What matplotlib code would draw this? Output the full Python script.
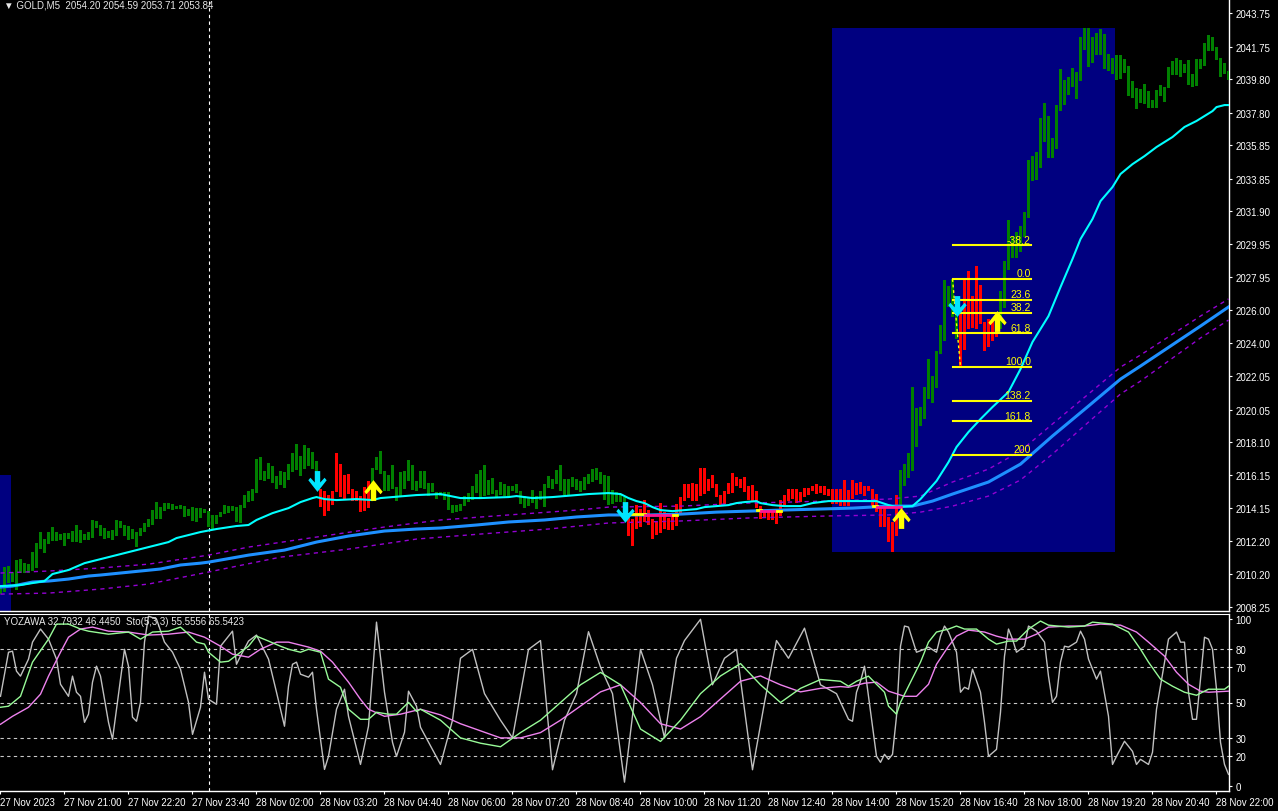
import matplotlib.pyplot as plt
import numpy as np
from matplotlib.path import Path
from matplotlib.patches import Rectangle

plt.rcParams['font.family'] = ['Liberation Sans', 'DejaVu Sans']

# ---------------- price bars (M5, one per bar index) ----------------
highs = [
    2009.50, 2010.64, 2010.70, 2010.34, 2011.05, 2011.11, 2010.87, 2010.81, 2011.53, 2012.07,
    2012.73, 2012.31, 2012.73, 2013.03, 2012.73, 2012.61, 2012.67, 2012.67, 2012.79, 2013.15,
    2012.85, 2012.61, 2012.73, 2013.45, 2013.39, 2013.15, 2012.97, 2012.79, 2012.85, 2013.45,
    2013.39, 2013.15, 2013.09, 2012.91, 2012.73, 2012.97, 2013.27, 2013.51, 2014.04, 2014.52,
    2014.22, 2014.46, 2014.46, 2014.40, 2014.28, 2014.34, 2014.28, 2014.10, 2014.22, 2014.16,
    2014.16, 2014.10, 2013.98, 2013.75, 2013.75, 2013.92, 2014.34, 2014.28, 2014.28, 2014.22,
    2014.34, 2014.94, 2015.18, 2015.30, 2017.09, 2017.21, 2016.37, 2016.85, 2016.67, 2016.07,
    2016.37, 2016.31, 2016.79, 2017.45, 2017.99, 2017.27, 2017.93, 2017.75, 2017.51, 2016.97,
    2015.30, 2015.18, 2014.94, 2015.18, 2017.45, 2016.79, 2016.13, 2016.19, 2015.30, 2015.18,
    2014.88, 2015.42, 2015.78, 2016.55, 2017.21, 2017.57, 2016.37, 2016.13, 2016.73, 2015.42,
    2016.31, 2016.37, 2017.03, 2016.73, 2015.78, 2016.37, 2016.37, 2015.66, 2015.66, 2015.12,
    2015.12, 2015.12, 2015.12, 2014.34, 2014.34, 2014.40, 2014.88, 2015.06, 2015.48, 2016.19,
    2016.43, 2016.73, 2015.84, 2015.96, 2015.24, 2015.72, 2015.60, 2015.48, 2015.48, 2015.60,
    2015.18, 2014.88, 2014.76, 2015.24, 2014.88, 2015.18, 2015.60, 2016.07, 2015.90, 2016.43,
    2016.73, 2015.90, 2015.90, 2016.02, 2015.90, 2015.78, 2016.02, 2016.19, 2016.49, 2016.55,
    2016.31, 2016.13, 2016.07, 2015.24, 2015.12, 2014.94, 2014.82, 2013.63, 2013.51, 2014.34,
    2014.10, 2014.64, 2014.04, 2013.51, 2013.33, 2014.46, 2013.92, 2013.57, 2013.80, 2014.40,
    2014.82, 2015.60, 2015.60, 2015.66, 2015.60, 2016.55, 2016.55, 2015.90, 2016.13, 2015.60,
    2014.94, 2015.18, 2015.66, 2016.25, 2016.02, 2015.90, 2016.02, 2015.48, 2015.54, 2015.18,
    2014.28, 2014.10, 2014.10, 2014.04, 2014.04, 2014.64, 2014.94, 2015.30, 2015.30, 2015.30,
    2015.12, 2015.36, 2015.36, 2015.48, 2015.60, 2015.48, 2015.48, 2015.30, 2015.30, 2015.30,
    2015.30, 2015.84, 2015.24, 2015.84, 2015.66, 2015.72, 2015.48, 2015.48, 2015.30, 2015.00,
    2014.28, 2014.16, 2013.63, 2013.33, 2014.94, 2016.43, 2016.79, 2017.45, 2021.40, 2020.14,
    2020.20, 2021.40, 2023.07, 2022.05, 2023.55, 2025.10, 2027.79, 2027.43, 2027.85, 2025.88,
    2025.88, 2027.79, 2028.33, 2026.84, 2028.63, 2027.49, 2025.28, 2025.46, 2025.46, 2025.64,
    2027.13, 2028.93, 2031.38, 2030.42, 2030.66, 2031.02, 2031.86, 2034.96, 2035.20, 2035.44,
    2037.47, 2038.37, 2037.59, 2036.28, 2038.25, 2040.40, 2039.75, 2039.92, 2040.46, 2040.22,
    2042.32, 2042.85, 2042.85, 2042.32, 2042.55, 2042.79, 2042.49, 2041.30, 2041.06, 2041.24,
    2041.24, 2041.00, 2040.58, 2039.69, 2039.27, 2039.21, 2039.51, 2039.09, 2038.55, 2039.15,
    2039.45, 2039.33, 2040.52, 2040.88, 2041.06, 2040.94, 2040.70, 2040.94, 2040.10, 2041.00,
    2041.00, 2041.96, 2042.44, 2042.32, 2041.72, 2041.06, 2040.76, 2040.28,
]
lows = [
    2009.02, 2009.14, 2009.68, 2009.74, 2009.26, 2010.28, 2010.28, 2010.28, 2010.40, 2010.58,
    2011.71, 2011.47, 2012.01, 2012.19, 2012.19, 2012.25, 2011.89, 2012.31, 2012.13, 2012.13,
    2012.07, 2012.25, 2012.25, 2012.37, 2012.97, 2012.49, 2012.31, 2012.37, 2012.25, 2012.49,
    2012.97, 2012.49, 2012.25, 2012.31, 2011.83, 2012.49, 2012.73, 2013.03, 2013.15, 2013.51,
    2013.51, 2013.98, 2014.10, 2014.04, 2014.10, 2014.10, 2013.63, 2013.69, 2013.39, 2013.33,
    2013.57, 2013.86, 2013.03, 2012.85, 2013.21, 2013.63, 2013.80, 2013.86, 2013.98, 2013.33,
    2013.27, 2014.16, 2014.52, 2014.58, 2015.06, 2015.84, 2015.78, 2015.90, 2015.66, 2015.30,
    2015.54, 2015.36, 2015.84, 2016.31, 2016.43, 2016.07, 2016.49, 2016.67, 2016.49, 2015.60,
    2014.22, 2013.69, 2013.98, 2014.34, 2015.12, 2014.82, 2014.70, 2015.00, 2014.58, 2014.58,
    2013.92, 2013.98, 2014.16, 2014.70, 2016.43, 2016.19, 2015.18, 2015.18, 2015.30, 2014.58,
    2014.88, 2015.30, 2015.78, 2015.24, 2015.18, 2015.36, 2015.30, 2014.88, 2015.12, 2014.70,
    2014.88, 2014.64, 2014.04, 2013.86, 2013.92, 2013.98, 2014.28, 2014.52, 2014.64, 2015.06,
    2014.76, 2014.88, 2014.94, 2015.00, 2014.82, 2014.94, 2014.88, 2014.88, 2015.18, 2015.06,
    2014.40, 2014.16, 2014.28, 2014.46, 2014.10, 2014.64, 2014.22, 2015.36, 2015.30, 2015.60,
    2015.18, 2014.94, 2014.94, 2015.42, 2015.24, 2015.12, 2015.24, 2015.60, 2015.72, 2015.84,
    2015.60, 2014.64, 2014.34, 2014.40, 2014.52, 2014.52, 2014.52, 2012.49, 2011.89, 2012.91,
    2013.03, 2013.33, 2013.15, 2012.31, 2012.55, 2012.67, 2012.91, 2012.85, 2012.85, 2013.09,
    2013.80, 2014.58, 2014.76, 2014.58, 2014.58, 2014.88, 2015.00, 2015.18, 2015.36, 2014.82,
    2014.34, 2014.40, 2015.00, 2015.06, 2015.48, 2015.36, 2015.12, 2014.64, 2014.58, 2014.16,
    2013.51, 2013.63, 2013.45, 2013.45, 2013.21, 2013.69, 2014.34, 2014.58, 2014.70, 2014.46,
    2014.52, 2014.82, 2014.94, 2015.18, 2015.00, 2015.06, 2014.94, 2014.88, 2014.40, 2014.40,
    2014.28, 2014.28, 2014.28, 2014.70, 2014.94, 2015.00, 2014.88, 2015.18, 2014.28, 2013.92,
    2013.03, 2013.03, 2012.13, 2011.53, 2012.49, 2014.28, 2015.48, 2015.96, 2016.37, 2017.81,
    2019.06, 2019.48, 2020.68, 2020.44, 2021.34, 2023.37, 2024.15, 2026.18, 2025.58, 2024.27,
    2022.59, 2023.61, 2024.86, 2024.92, 2024.86, 2025.16, 2023.55, 2023.79, 2024.15, 2024.39,
    2024.86, 2026.12, 2028.39, 2029.11, 2029.11, 2029.47, 2030.36, 2031.50, 2033.71, 2033.77,
    2034.49, 2036.04, 2035.08, 2035.08, 2035.62, 2037.89, 2038.25, 2038.85, 2039.33, 2038.61,
    2039.69, 2041.54, 2040.52, 2040.76, 2041.24, 2041.24, 2040.40, 2040.28, 2040.10, 2039.75,
    2039.81, 2040.16, 2038.79, 2038.67, 2038.01, 2038.37, 2038.31, 2038.07, 2038.07, 2038.07,
    2038.79, 2038.43, 2039.27, 2040.04, 2040.04, 2039.92, 2040.16, 2039.45, 2039.33, 2039.39,
    2040.40, 2040.58, 2041.48, 2041.48, 2040.94, 2039.92, 2040.10, 2039.75,
]
# bar index ranges painted red (down trend)
red_ranges = [(80, 92), (157, 224), (240, 249)]

# ---------------- moving averages (bar, price) ----------------
ma_fast = [(0, 2009.50), (5, 2009.56), (8, 2009.68), (11, 2009.80), (13, 2010.22), (17, 2010.46),
           (21, 2010.87), (25, 2011.11), (29, 2011.35), (33, 2011.59), (37, 2011.83), (42, 2012.13),
           (44, 2012.37), (47, 2012.55), (50, 2012.73), (54, 2012.91), (59, 2013.09), (62, 2013.15),
           (64, 2013.45), (68, 2013.86), (72, 2014.16), (75, 2014.52), (78, 2014.76), (79, 2014.82),
           (81, 2014.70), (84, 2014.64), (89, 2014.70), (93, 2014.64), (95, 2014.76), (98, 2014.82),
           (104, 2014.94), (110, 2015.00), (115, 2014.76), (120, 2014.76), (127, 2014.82),
           (129, 2014.88), (133, 2014.76), (138, 2014.82), (144, 2014.94), (147, 2015.00),
           (152, 2015.06), (155, 2015.00), (157, 2014.76), (159, 2014.58), (161, 2014.46),
           (163, 2014.22), (165, 2014.04), (168, 2013.98), (171, 2014.04), (174, 2014.10),
           (176, 2014.22), (179, 2014.28), (182, 2014.34), (184, 2014.46), (186, 2014.52),
           (189, 2014.58), (190, 2014.46), (193, 2014.34), (196, 2014.28), (200, 2014.28),
           (203, 2014.46), (207, 2014.58), (212, 2014.58), (219, 2014.58), (222, 2014.34),
           (224, 2014.22), (228, 2014.28), (230, 2014.70), (234, 2015.78), (237, 2016.91),
           (239, 2017.81), (242, 2018.71), (245, 2019.48), (248, 2020.20), (252, 2021.10),
           (255, 2022.47), (258, 2024.09), (262, 2025.64), (265, 2027.37), (268, 2029.05),
           (270, 2030.24), (273, 2031.44), (275, 2032.51), (278, 2033.35), (280, 2034.13),
           (283, 2034.72), (286, 2035.20), (289, 2035.74), (293, 2036.34), (296, 2036.94),
           (299, 2037.30), (303, 2037.89), (304, 2038.13), (306, 2038.25), (307, 2038.25)]
ma_slow = [(0, 2009.44), (3, 2009.50), (8, 2009.74), (12, 2009.80), (17, 2009.92), (22, 2010.10),
           (25, 2010.16), (30, 2010.28), (35, 2010.40), (40, 2010.52), (45, 2010.76), (50, 2010.87),
           (52, 2010.93), (62, 2011.35), (71, 2011.65), (79, 2012.13), (87, 2012.49), (96, 2012.79),
           (104, 2012.91), (110, 2012.97), (119, 2013.15), (127, 2013.33), (136, 2013.45),
           (144, 2013.63), (152, 2013.75), (162, 2013.75), (170, 2013.80), (179, 2013.92),
           (187, 2013.98), (195, 2014.04), (204, 2014.10), (213, 2014.16), (222, 2014.28),
           (228, 2014.28), (233, 2014.58), (238, 2015.00), (247, 2015.72), (255, 2016.79),
           (263, 2018.47), (272, 2020.26), (280, 2021.87), (285, 2022.65), (300, 2025.04),
           (307, 2026.18)]
env_upper = [(0, 2010.28), (12, 2010.40), (25, 2010.58), (37, 2010.81), (52, 2011.35), (62, 2011.83),
             (79, 2012.43), (96, 2013.03), (110, 2013.45), (127, 2013.75), (144, 2014.04),
             (152, 2014.22), (170, 2014.28), (187, 2014.46), (207, 2014.58), (222, 2014.70),
             (230, 2014.88), (238, 2015.72), (247, 2016.49), (255, 2017.57), (263, 2019.19),
             (272, 2020.98), (280, 2022.59), (285, 2023.31), (300, 2025.64), (307, 2026.66)]
env_lower = [(0, 2009.02), (12, 2009.08), (25, 2009.32), (37, 2009.62), (52, 2010.34), (70, 2011.23),
             (87, 2011.71), (104, 2012.31), (120, 2012.61), (137, 2012.91), (152, 2013.27),
             (170, 2013.39), (187, 2013.57), (207, 2013.69), (222, 2013.75), (230, 2013.92),
             (238, 2014.28), (247, 2014.88), (255, 2015.84), (263, 2017.39), (272, 2019.30),
             (280, 2020.98), (285, 2021.75), (300, 2024.33), (307, 2025.40)]
# short signal segments (start bar, end bar, price, colour)
signal_segments = [(155, 161, 2013.80, '#FFFF00'), (161, 168, 2013.75, '#FF1493'),
                   (168, 169, 2013.75, '#FFFF00'), (189, 190, 2014.04, '#FFFF00'),
                   (190, 194, 2013.98, '#FF1493'), (194, 195, 2013.98, '#FFFF00'),
                   (218, 219, 2014.28, '#FFFF00'), (219, 225, 2014.22, '#FF1493')]

# arrows (bar, price)
sell_signals = [(79, 2015.78), (156, 2013.92), (239, 2026.24)]
buy_signals = [(93, 2015.24), (225, 2013.57), (249, 2025.34)]

# fibonacci retracement
fib_high, fib_low = 2027.85, 2022.59
fib_start, fib_end = 238, 257.6
fib_levels = [-38.2, 0.0, 23.6, 38.2, 61.8, 100.0, 138.2, 161.8, 200]
fib_labels = ['-38.2', '0.0', '23.6', '38.2', '61.8', '100.0', '138.2', '161.8', '200']

# rectangles (bars)
box_start, box_end = 207.9, 278.6
left_box_end, left_box_top = 2.6, 2016.15

# ---------------- oscillator (bar, value) ----------------
yozawa = [(0, 53.5), (2, 78.4), (3, 79.0), (4, 67.7), (5, 64.9), (7, 74.5), (8, 84.1), (10, 91.5),
          (11, 88.6), (12, 85.8), (14, 74.5), (15, 60.3), (17, 53.5), (18, 64.9), (19, 55.8),
          (20, 53.5), (21, 38.8), (22, 43.4), (23, 61.5), (24, 70.5), (25, 64.9), (27, 38.8),
          (28, 29.2), (29, 46.2), (31, 80.1), (32, 70.5), (33, 41.7), (34, 39.4), (35, 50.1),
          (36, 84.1), (37, 98.8), (39, 97.1), (41, 84.1), (43, 78.4), (45, 68.8), (47, 50.1),
          (48, 32.0), (50, 47.3), (51, 67.1), (52, 51.8), (54, 49.0), (55, 81.8), (57, 87.5),
          (58, 90.3), (59, 71.6), (60, 76.2), (62, 84.7), (64, 88.1), (67, 74.5), (69, 55.8),
          (71, 36.6), (72, 59.2), (73, 71.6), (74, 72.8), (75, 66.0), (77, 64.3), (78, 67.1),
          (79, 46.2), (81, 12.2), (82, 19.6), (84, 46.2), (86, 57.5), (87, 42.2), (90, 15.0),
          (92, 36.6), (94, 95.4), (96, 55.8), (98, 27.5), (99, 19.6), (101, 33.2), (102, 56.4),
          (104, 47.9), (105, 36.0), (110, 15), (113, 40), (115, 75), (118, 80), (121, 55),
          (125, 40), (128, 30), (132, 80), (135, 85), (138, 12), (141, 40), (144, 55), (147, 90),
          (150, 70), (153, 55), (156, 5), (160, 80), (163, 60), (166, 30), (169, 75), (171, 85),
          (175, 97), (178, 60), (181, 75), (184, 80), (188, 12), (191, 50), (194, 85), (197, 75),
          (201, 92), (205, 60), (209, 55), (212, 40.5), (213, 39.4), (214, 55.8), (215, 62.0),
          (216, 70.5), (217, 53.5), (219, 19.6), (220, 16.2), (221, 20.7), (222, 17.9),
          (223, 20.7), (224, 42.2), (225, 81.8), (226, 93.2), (227, 92.6), (229, 78.4),
          (231, 80.1), (232, 81.3), (234, 78.4), (235, 87.5), (236, 93.2), (237, 89.8),
          (239, 78.4), (240, 55.8), (241, 58.6), (242, 57.5), (243, 68.8), (245, 55.8),
          (246, 38.8), (247, 19.6), (249, 23.5), (250, 44.5), (251, 76.2), (252, 91.5),
          (253, 85.8), (254, 78.4), (256, 81.8), (257, 93.2), (259, 90.3), (261, 84.1),
          (262, 64.9), (263, 50.1), (264, 53.5), (265, 72.8), (266, 81.8), (267, 81.3),
          (269, 84.1), (270, 90.3), (271, 85.8), (272, 74.5), (274, 63.2), (275, 67.7),
          (277, 42.2), (278, 15.0), (279, 19.6), (281, 28.1), (283, 22.4), (284, 15.0),
          (285, 17.9), (287, 15.0), (288, 21.9), (289, 46.2), (291, 72.8), (292, 85.8),
          (294, 89.8), (295, 84.1), (296, 84.1), (297, 55.8), (298, 40.5), (299, 40.5),
          (300, 63.2), (301, 86.9), (302, 85.8), (303, 80.1), (304, 57.5), (305, 27.5),
          (306, 15.0), (307, 9.4)]
sto_main = [(0, 47.3), (2, 47.9), (5, 53.5), (8, 72.8), (12, 85.8), (14, 94.3), (17, 94.3),
            (20, 91.5), (22, 90.3), (27, 88.6), (32, 89.8), (35, 85.8), (38, 89.8), (42, 90.3),
            (45, 92.6), (47, 88.6), (49, 84.1), (51, 83.0), (52, 78.4), (55, 72.8), (57, 73.3),
            (60, 78.4), (62, 81.8), (64, 87.5), (67, 84.7), (70, 81.8), (72, 80.1), (75, 78.4),
            (77, 80.1), (80, 78.4), (82, 63.2), (85, 58.6), (87, 46.2), (90, 40.5), (92, 40.5),
            (94, 44.5), (97, 43.4), (99, 43.4), (102, 50.1), (104, 45.0), (105, 46.2),
            (110, 40), (115, 30), (120, 27), (125, 25), (130, 33), (135, 40), (140, 50),
            (145, 60), (150, 67), (155, 60), (160, 35), (165, 28), (170, 40), (175, 55),
            (180, 65), (185, 72), (190, 60), (195, 50), (200, 58), (205, 63), (210, 62),
            (212, 59.2), (214, 62.0), (217, 64.9), (219, 60.3), (221, 55.8), (222, 47.9),
            (224, 43.4), (225, 50.1), (227, 59.2), (230, 72.8), (232, 84.1), (234, 89.8),
            (237, 91.5), (239, 93.2), (241, 91.5), (244, 91.5), (247, 85.8), (249, 83.0),
            (252, 84.7), (254, 84.7), (257, 91.5), (260, 96.0), (262, 93.7), (267, 92.6),
            (271, 93.2), (273, 95.4), (278, 94.3), (282, 89.8), (285, 80.1), (287, 72.8),
            (290, 63.2), (293, 59.2), (296, 55.8), (299, 54.1), (301, 56.4), (302, 57.5),
            (306, 57.5), (307, 59.2)]
sto_signal = [(0, 37.7), (3, 42.2), (7, 47.3), (10, 54.7), (12, 64.9), (15, 78.4), (17, 86.9),
              (20, 91.5), (23, 92.6), (27, 90.3), (32, 89.8), (37, 88.1), (42, 88.6), (47, 89.8),
              (51, 86.9), (55, 81.8), (58, 77.3), (62, 75.6), (65, 80.1), (69, 84.1), (72, 84.1),
              (77, 81.3), (80, 79.0), (83, 72.8), (87, 61.5), (90, 51.8), (92, 46.2), (96, 42.2),
              (100, 43.4), (105, 46.2), (110, 43), (115, 38), (120, 34), (125, 30), (130, 30),
              (135, 33), (140, 40), (145, 48), (150, 56), (155, 60), (160, 50), (165, 38),
              (170, 35), (175, 42), (180, 52), (185, 62), (190, 65), (195, 60), (200, 56),
              (205, 58), (210, 59), (212, 58.6), (216, 60.9), (219, 61.5), (222, 56.4),
              (226, 53.5), (229, 53.5), (232, 60.3), (234, 71.6), (237, 81.8), (239, 87.5),
              (242, 90.9), (246, 89.8), (249, 87.5), (252, 85.8), (256, 85.8), (259, 88.6),
              (262, 92.6), (267, 93.2), (271, 93.2), (275, 94.3), (280, 93.7), (284, 89.8),
              (287, 84.1), (291, 76.2), (294, 67.1), (297, 60.3), (300, 56.4), (302, 55.8),
              (307, 56.4)]
sto_levels = [80, 70, 50, 30, 20]

# ---------------- axis labels ----------------
price_ticks = [2043.75, 2041.75, 2039.80, 2037.80, 2035.85, 2033.85, 2031.90, 2029.95, 2027.95,
               2026.00, 2024.00, 2022.05, 2020.05, 2018.10, 2016.15, 2014.15, 2012.20, 2010.20,
               2008.25]
time_labels = ['27 Nov 2023', '27 Nov 21:00', '27 Nov 22:20', '27 Nov 23:40', '28 Nov 02:00',
               '28 Nov 03:20', '28 Nov 04:40', '28 Nov 06:00', '28 Nov 07:20', '28 Nov 08:40',
               '28 Nov 10:00', '28 Nov 11:20', '28 Nov 12:40', '28 Nov 14:00', '28 Nov 15:20',
               '28 Nov 16:40', '28 Nov 18:00', '28 Nov 19:20', '28 Nov 20:40', '28 Nov 22:00']
day_separator_bar = 52

# ---------------- figure ----------------
W, H = 1278, 812
fig = plt.figure(figsize=(W / 100, H / 100), dpi=100, facecolor='black')
ax = fig.add_axes([0, 200 / H, 1229 / W, 612 / H])
ax2 = fig.add_axes([0, 20 / H, 1229 / W, 177 / H])
n = len(highs)
xlim = (-0.125, n - 1 + 0.125)

for a in (ax, ax2):
    a.set_facecolor('black')
    a.set_xlim(*xlim)
    for s in ('left', 'top'):
        a.spines[s].set_visible(False)
    for s in ('right', 'bottom'):
        a.spines[s].set_color('white')
        a.spines[s].set_linewidth(1)
    a.yaxis.tick_right()
    a.tick_params(colors='white', labelsize=7, length=2.5, width=0.8, pad=2)
    a.axvline(day_separator_bar, color='white', lw=0.8, ls=(0, (3, 3)), zorder=2)
ax2.spines['top'].set_visible(True)
ax2.spines['top'].set_color('white')

# main panel
ax.set_ylim(2008.01, 2044.59)
ax.set_xticks([])
ax.set_yticks(price_ticks)
ax.set_yticklabels([f'{v:.2f}' for v in price_ticks])

lo_box = min(lows[208:279])
hi_box = max(highs[208:279])
ax.add_patch(Rectangle((box_start, lo_box), box_end - box_start, hi_box - lo_box,
                       color='#000080', lw=0, zorder=1))
ax.add_patch(Rectangle((xlim[0] - 1, 2000), left_box_end - xlim[0] + 1, left_box_top - 2000,
                       color='#000080', lw=0, zorder=1))

colors = ['#008000'] * n
for a, b in red_ranges:
    for i in range(a, b + 1):
        colors[i] = '#FF0000'
hi = np.array(highs)
lo = np.array(lows)
ax.bar(np.arange(n), hi - lo, bottom=lo, width=0.72, color=colors, linewidth=0, zorder=3)

for pts in (env_upper, env_lower):
    bx, py = zip(*pts)
    ax.plot(bx, py, color='#9400D3', lw=1, ls=(0, (3, 3)), zorder=4)
bx, py = zip(*ma_slow)
ax.plot(bx, py, color='#1E90FF', lw=2.2, zorder=4)
bx, py = zip(*ma_fast)
ax.plot(bx, py, color='#00FFFF', lw=1.5, zorder=5)
for b0, b1, p, c in signal_segments:
    ax.plot([b0, b1], [p, p], color=c, lw=2, zorder=5)

# fibonacci
rng = fib_high - fib_low
for lvl, lab in zip(fib_levels, fib_labels):
    p = fib_high - lvl / 100 * rng
    ax.plot([fib_start, fib_end], [p, p], color='#FFFF00', lw=1.5, zorder=6)
    ax.annotate(lab, (fib_end, p), xytext=(0, 0.5), textcoords='offset points',
                ha='right', va='bottom', color='#FFFF00', fontsize=7.5, zorder=6)
ax.plot([fib_start, fib_start + 2], [fib_high, fib_low], color='#FFFF00', lw=1,
        ls=(0, (2, 2)), zorder=6)

# arrows
dv = [(-0.26, 1), (0.26, 1), (0.26, -0.1), (0.68, 0.36), (0.88, 0.12), (0, -1),
      (-0.88, 0.12), (-0.68, 0.36), (-0.26, -0.1), (-0.26, 1)]
codes = [Path.MOVETO] + [Path.LINETO] * 8 + [Path.CLOSEPOLY]
down_arrow = Path(dv, codes)
up_arrow = Path([(x, -y) for x, y in dv], codes)
bx, py = zip(*sell_signals)
ax.plot(bx, py, ls='none', marker=down_arrow, ms=15, color='#00E5FF', mew=0, zorder=7)
bx, py = zip(*buy_signals)
ax.plot(bx, py, ls='none', marker=up_arrow, ms=15, color='#FFFF00', mew=0, zorder=7)

fig.text(4 / W, 1 - 6 / H, '\u25bc GOLD,M5  2054.20 2054.59 2053.71 2053.84',
         color='#E8E8E8', fontsize=7, va='center', ha='left')

# oscillator panel
ax2.set_ylim(0, 100)
for lv in sto_levels:
    ax2.axhline(lv, color='#C8C8C8', lw=0.8, ls=(0, (3, 3)), zorder=1)
bx, v = zip(*yozawa)
ax2.plot(bx, v, color='#C0C0C0', lw=1, zorder=3)
bx, v = zip(*sto_signal)
ax2.plot(bx, v, color='#EE82EE', lw=1, zorder=3)
bx, v = zip(*sto_main)
ax2.plot(bx, v, color='#98FB98', lw=1, zorder=4)
ax2.set_yticks([3, 20, 30, 50, 70, 80, 97])
ax2.set_yticklabels(['0', '20', '30', '50', '70', '80', '100'])
ticks = np.arange(len(time_labels)) * 16 - 0.125
ax2.set_xticks(ticks)
ax2.set_xticklabels(time_labels, ha='left')
ax2.tick_params(axis='x', pad=1.5)
ax2.text(4 / 1229, 1 - 7 / 177, 'YOZAWA 32.7932 46.4450  Sto(5,3,3) 55.5556 65.5423',
         transform=ax2.transAxes, color='#E8E8E8', fontsize=7, va='center', ha='left')

fig.savefig('out.png', dpi=100, facecolor='black')
